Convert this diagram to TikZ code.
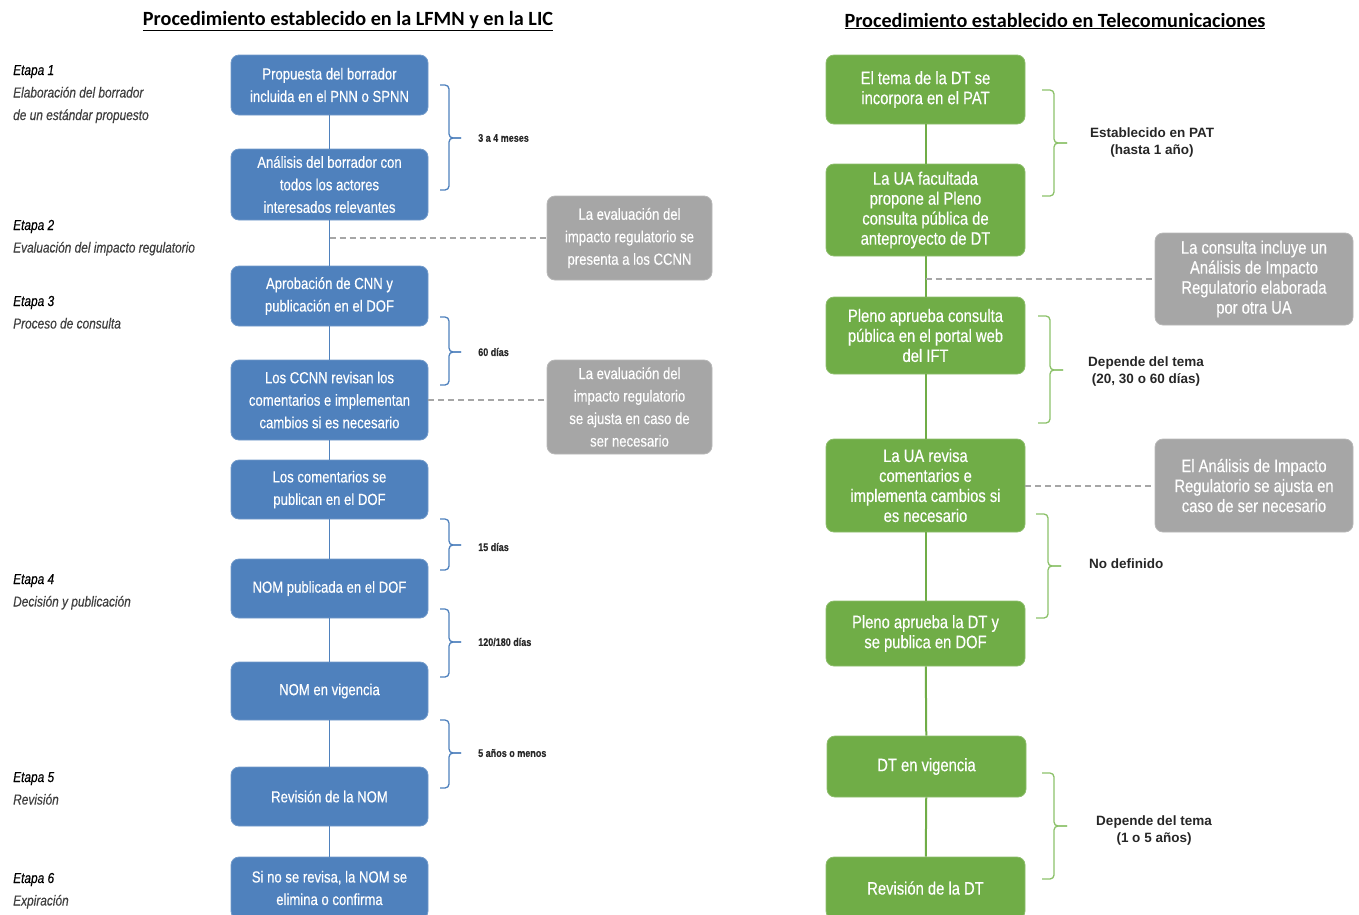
\documentclass[tikz,border=0pt]{standalone}
\usepackage{fontspec}
\setmainfont{Liberation Sans}
\newfontfamily\narrow[FakeStretch=0.82,FakeBold=0.35]{Liberation Sans}
\newfontfamily\titlefont{Carlito}
\definecolor{bluebox}{HTML}{4F81BD}
\definecolor{greenbox}{HTML}{70AD47}
\definecolor{greybox}{HTML}{A6A6A6}
\definecolor{dashgrey}{HTML}{A6A6A6}
\definecolor{greenbrace}{HTML}{8CC16A}
\definecolor{stagegrey}{HTML}{404040}
\newcommand\mybracket[7]{%
  \draw[#7, line width=1.3pt, rounded corners=4pt] (#1,#4) -- (#2,#4) |- (#3,#5);
  \draw[#7, line width=1.3pt, rounded corners=4pt] (#1,#6) -- (#2,#6) |- (#3,#5);}
\begin{document}
\begin{tikzpicture}[x=1pt,y=-1pt,
  every node/.style={inner sep=0pt},
  bluenode/.style={fill=bluebox, draw=bluebox!80!white, line width=0.8pt, rounded corners=8pt,
    minimum width=197pt, text=white, align=center, font={\narrow\fontsize{16}{22.5}\selectfont}},
  greennode/.style={fill=greenbox, draw=greenbox!80!white, line width=0.8pt, rounded corners=8pt,
    minimum width=199pt, text=white, align=center, font={\narrow\fontsize{18}{20}\selectfont}},
  greyleft/.style={fill=greybox, draw=greybox!80!white, line width=0.8pt, rounded corners=8pt,
    minimum width=165pt, text=white, align=center, font={\narrow\fontsize{16}{22.5}\selectfont}},
  greyright/.style={fill=greybox, draw=greybox!80!white, line width=0.8pt, rounded corners=8pt,
    minimum width=198pt, text=white, align=center, font={\narrow\fontsize{18}{20}\selectfont}},
  blueline/.style={draw=bluebox, line width=1.5pt},
  greenline/.style={draw=greenbox, line width=2pt},
  dashline/.style={draw=dashgrey, line width=2pt, dash pattern=on 6pt off 4pt},
  stagelabel/.style={anchor=base west, align=left, text=stagegrey, font={\narrow\itshape\fontsize{14.5}{22.5}\selectfont}},
  leftlabel/.style={anchor=west, text=black!85, font={\narrow\bfseries\fontsize{11}{13}\selectfont}},
  rightlabel/.style={align=center, text=black!85, font={\bfseries\fontsize{13.5}{17}\selectfont}},
  titlestyle/.style={text=black, font={\titlefont\bfseries\fontsize{20.2}{24}\selectfont}}
]
\useasboundingbox (0,0) rectangle (1359,914);

% titles
\node[titlestyle] (t1) at (348,21) {\underline{Procedimiento establecido en la LFMN y en la LIC}};
\node[titlestyle] (t2) at (1055,21) {\underline{Procedimiento establecido en Telecomunicaciones}};

% stage labels (anchor = baseline of the last line)
\node[stagelabel] (e1) at (13,120) {\textcolor{black}{Etapa 1}\\Elaboración del borrador\\de un estándar propuesto};
\node[stagelabel] (e2) at (13,252.5) {\textcolor{black}{Etapa 2}\\Evaluación del impacto regulatorio};
\node[stagelabel] (e3) at (13,328.5) {\textcolor{black}{Etapa 3}\\Proceso de consulta};
\node[stagelabel] (e4) at (13,606.5) {\textcolor{black}{Etapa 4}\\Decisión y publicación};
\node[stagelabel] (e5) at (13,804.5) {\textcolor{black}{Etapa 5}\\Revisión};
\node[stagelabel] (e6) at (13,905.5) {\textcolor{black}{Etapa 6}\\Expiración};

% left column
\node[bluenode, minimum height=60pt] (b1) at (329.5,85) {Propuesta del borrador\\incluida en el PNN o SPNN};
\node[bluenode, minimum height=71pt] (b2) at (329.5,184.5) {Análisis del borrador con\\todos los actores\\interesados relevantes};
\node[bluenode, minimum height=60pt] (b3) at (329.5,296) {Aprobación de CNN y\\publicación en el DOF};
\node[bluenode, minimum height=80pt] (b4) at (329.5,400) {Los CCNN revisan los\\comentarios e implementan\\cambios si es necesario};
\node[bluenode, minimum height=59pt] (b5) at (329.5,489.5) {Los comentarios se\\publican en el DOF};
\node[bluenode, minimum height=59pt] (b6) at (329.5,588.5) {NOM publicada en el DOF};
\node[bluenode, minimum height=58pt] (b7) at (329.5,691) {NOM en vigencia};
\node[bluenode, minimum height=59pt] (b8) at (329.5,796.5) {Revisión de la NOM};
\node[bluenode, minimum height=62pt] (b9) at (329.5,888) {Si no se revisa, la NOM se\\elimina o confirma};

\node[greyleft, minimum height=84pt] (gl1) at (629.5,238) {La evaluación del\\impacto regulatorio se\\presenta a los CCNN};
\node[greyleft, minimum height=94pt] (gl2) at (629.5,407) {La evaluación del\\impacto regulatorio\\se ajusta en caso de\\ser necesario};

\draw[blueline] (b1) -- (b2);
\draw[blueline] (b2) -- (b3);
\draw[blueline] (b3) -- (b4);
\draw[blueline] (b4) -- (b5);
\draw[blueline] (b5) -- (b6);
\draw[blueline] (b6) -- (b7);
\draw[blueline] (b7) -- (b8);
\draw[blueline] (b8) -- (b9);

\coordinate (d1) at (329.5,238);
\draw[dashline] (d1) -- (gl1.west);
\draw[dashline] (b4.east) -- (b4.east -| gl2.west);

% left braces
\mybracket{440}{449}{461}{85}{138}{190}{bluebox}
\mybracket{440}{449}{461}{317}{352}{385}{bluebox}
\mybracket{440}{449}{461}{519}{545}{570}{bluebox}
\mybracket{440}{449}{461}{609}{642}{677}{bluebox}
\mybracket{440}{449}{461}{720}{753}{788}{bluebox}
\node[leftlabel] (l1) at (478,138) {3 a 4 meses};
\node[leftlabel] (l2) at (478,352) {60 días};
\node[leftlabel] (l3) at (478,547) {15 días};
\node[leftlabel] (l4) at (478,642) {120/180 días};
\node[leftlabel] (l5) at (478,753) {5 años o menos};

% right column
\node[greennode, minimum height=69pt] (g1) at (925.5,89.5) {El tema de la DT se\\incorpora en el PAT};
\node[greennode, minimum height=92pt] (g2) at (925.5,210) {La UA facultada\\propone al Pleno\\consulta pública de\\anteproyecto de DT};
\node[greennode, minimum height=77pt] (g3) at (925.5,335.5) {Pleno aprueba consulta\\pública en el portal web\\del IFT};
\node[greennode, minimum height=93pt] (g4) at (925.5,485.5) {La UA revisa\\comentarios e\\implementa cambios si\\es necesario};
\node[greennode, minimum height=65pt] (g5) at (925.5,633.5) {Pleno aprueba la DT y\\se publica en DOF};
\node[greennode, minimum height=61pt] (g6) at (926.5,766.5) {DT en vigencia};
\node[greennode, minimum height=62pt] (g7) at (925.5,888) {Revisión de la DT};

\node[greyright, minimum height=92pt] (gr1) at (1254,279) {La consulta incluye un\\Análisis de Impacto\\Regulatorio elaborada\\por otra UA};
\node[greyright, minimum height=93pt] (gr2) at (1254,485.5) {El Análisis de Impacto\\Regulatorio se ajusta en\\caso de ser necesario};

\draw[greenline] (g1) -- (g2);
\draw[greenline] (g2) -- (g3);
\draw[greenline] (g3) -- (g4);
\draw[greenline] (g4) -- (g5);
\draw[greenline] (g5) -- (g6);
\draw[greenline] (g6) -- (g7);

\coordinate (d2) at (925.5,279);
\draw[dashline] (d2) -- (gr1.west);
\draw[dashline] (g4.east) -- (gr2.west);

% right braces
\mybracket{1042}{1054}{1067}{90}{143}{196}{greenbrace}
\mybracket{1038}{1050}{1063}{316}{370}{423}{greenbrace}
\mybracket{1036}{1048}{1061}{514}{566}{618}{greenbrace}
\mybracket{1042}{1054}{1067}{773}{826}{879}{greenbrace}
\node[rightlabel] (r1) at (1152,143) {Establecido en PAT\\(hasta 1 año)};
\node[rightlabel] (r2) at (1146,371) {Depende del tema\\(20, 30 o 60 días)};
\node[rightlabel, anchor=west] (r3) at (1089,564) {No definido};
\node[rightlabel] (r4) at (1154,830) {Depende del tema\\(1 o 5 años)};
\end{tikzpicture}
\end{document}
